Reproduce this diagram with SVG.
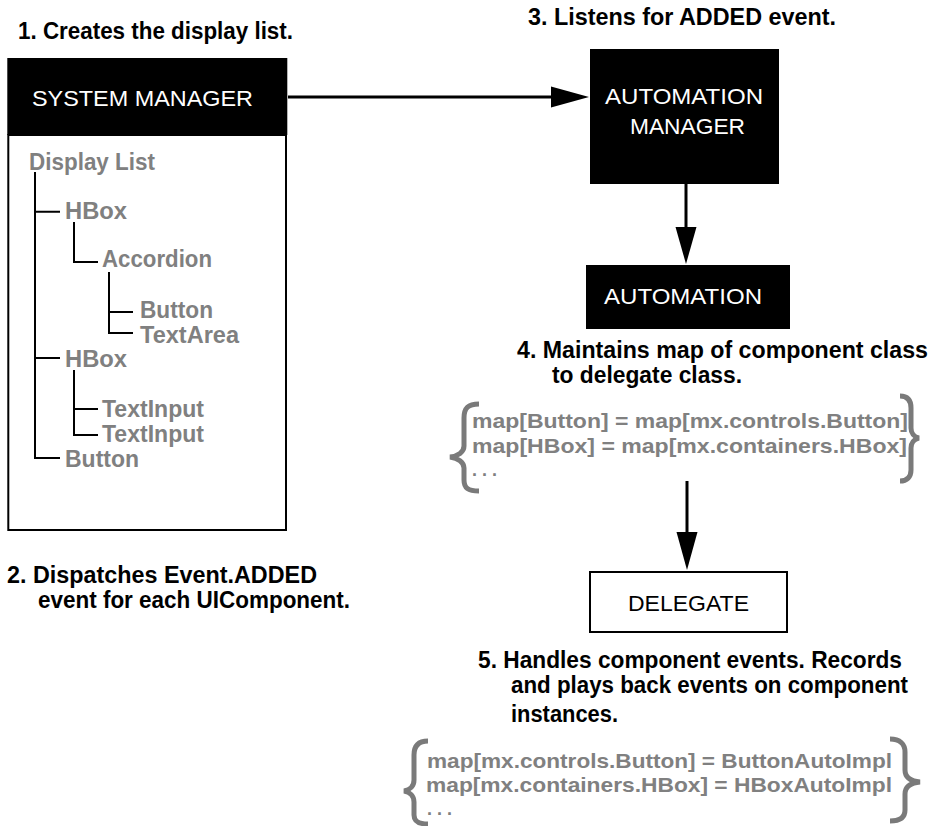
<svg xmlns="http://www.w3.org/2000/svg" width="931" height="826" viewBox="0 0 931 826">
<style>
text{font-family:"Liberation Sans",Arial,Helvetica,sans-serif;}
.lbl{font-size:23px;font-weight:bold;fill:#000;}
.gr{font-size:23px;font-weight:bold;fill:#808080;}
.mp{font-size:21px;font-weight:bold;fill:#808080;}
.dots{font-size:18px;font-weight:bold;fill:#808080;}
.wt{font-size:22px;fill:#fff;}
.bk{font-size:22px;fill:#000;}
.tree{stroke:#000;stroke-width:2;fill:none;}
.brace{stroke:#7a7a7a;stroke-width:5;fill:none;stroke-linecap:butt;}
.conn{stroke:#000;stroke-width:3;fill:none;}
.head{fill:#000;}
</style>
<rect width="931" height="826" fill="#fff"/>

<g id="label1"><text class="lbl" x="18" y="39" textLength="275" lengthAdjust="spacingAndGlyphs">1. Creates the display list.</text></g>

<g id="system-manager">
<rect x="8.3" y="135" width="277.7" height="395" fill="#fff" stroke="#000" stroke-width="2"/>
<rect x="7.3" y="58" width="280" height="77" fill="#000"/>
<text class="wt" x="32" y="106" textLength="221" lengthAdjust="spacingAndGlyphs">SYSTEM MANAGER</text>
</g>

<g id="display-list">
<text class="gr" x="29" y="170" textLength="126" lengthAdjust="spacingAndGlyphs">Display List</text>
<path class="tree" d="M35,172 V458 H60 M35,211.7 H60 M35,358 H60"/>
<path class="tree" d="M74,222 V262 H98"/>
<path class="tree" d="M109,272 V333 H133 M109,312 H133"/>
<path class="tree" d="M74,370 V435 H98 M74,409 H98"/>
<text class="gr" x="65" y="219" textLength="62" lengthAdjust="spacingAndGlyphs">HBox</text>
<text class="gr" x="102" y="267" textLength="110" lengthAdjust="spacingAndGlyphs">Accordion</text>
<text class="gr" x="140" y="318" textLength="73" lengthAdjust="spacingAndGlyphs">Button</text>
<text class="gr" x="140" y="343" textLength="99" lengthAdjust="spacingAndGlyphs">TextArea</text>
<text class="gr" x="65" y="367" textLength="62" lengthAdjust="spacingAndGlyphs">HBox</text>
<text class="gr" x="102" y="417" textLength="102" lengthAdjust="spacingAndGlyphs">TextInput</text>
<text class="gr" x="102" y="442" textLength="102" lengthAdjust="spacingAndGlyphs">TextInput</text>
<text class="gr" x="65" y="467" textLength="74" lengthAdjust="spacingAndGlyphs">Button</text>
</g>

<g id="label2">
<text class="lbl" x="7" y="583" textLength="310" lengthAdjust="spacingAndGlyphs">2. Dispatches Event.ADDED</text>
<text class="lbl" x="38" y="608" textLength="312" lengthAdjust="spacingAndGlyphs">event for each UIComponent.</text>
</g>

<g id="label3"><text class="lbl" x="528" y="25" textLength="308" lengthAdjust="spacingAndGlyphs">3. Listens for ADDED event.</text></g>

<g id="automation-manager">
<rect x="590" y="49" width="189" height="135" fill="#000"/>
<text class="wt" x="605" y="104" textLength="158" lengthAdjust="spacingAndGlyphs">AUTOMATION</text>
<text class="wt" x="630" y="134" textLength="115" lengthAdjust="spacingAndGlyphs">MANAGER</text>
</g>

<g id="automation">
<rect x="586" y="265" width="204" height="64" fill="#000"/>
<text class="wt" x="604" y="304" textLength="158" lengthAdjust="spacingAndGlyphs">AUTOMATION</text>
</g>

<g id="label4">
<text class="lbl" x="517" y="358" textLength="411" lengthAdjust="spacingAndGlyphs">4. Maintains map of component class</text>
<text class="lbl" x="552" y="383" textLength="190" lengthAdjust="spacingAndGlyphs">to delegate class.</text>
</g>

<g id="map1">
<path class="brace" d="M479,404 C468,404 464,408 464,418 L464,446 C464,452 458,456 450,457 C458,458 464,462 464,468 L464,480 C464,488 468,491 479,491"/>
<path class="brace" d="M900,396 C907,396 911,400 911,408 L911,428 C911,433 914,437 919,438 C914,439 911,443 911,448 L911,470 C911,477 907,481 900,481"/>
<text class="mp" x="472" y="428" textLength="436" lengthAdjust="spacingAndGlyphs">map[Button] = map[mx.controls.Button]</text>
<text class="mp" x="472" y="453" textLength="435" lengthAdjust="spacingAndGlyphs">map[HBox] = map[mx.containers.HBox]</text>
<text class="dots" x="472" y="476">. . .</text>
</g>

<g id="delegate">
<rect x="590" y="572" width="197" height="60" fill="#fff" stroke="#000" stroke-width="2"/>
<text class="bk" x="628" y="611" textLength="121" lengthAdjust="spacingAndGlyphs">DELEGATE</text>
</g>

<g id="label5">
<text class="lbl" x="478" y="668" textLength="424" lengthAdjust="spacingAndGlyphs">5. Handles component events. Records</text>
<text class="lbl" x="511" y="693" textLength="397" lengthAdjust="spacingAndGlyphs">and plays back events on component</text>
<text class="lbl" x="511" y="722" textLength="107" lengthAdjust="spacingAndGlyphs">instances.</text>
</g>

<g id="map2">
<path class="brace" d="M428,741 C418,741 414,746 414,755 L414,780 C414,786 410,790 404,791 C410,792 414,796 414,802 L414,815 C414,821 418,824 428,824"/>
<path class="brace" d="M890,739 C900,739 905,744 905,752 L905,770 C905,777 910,781 920,782 C910,783 905,787 905,794 L905,810 C905,817 900,821 890,821"/>
<text class="mp" x="427" y="768" textLength="465" lengthAdjust="spacingAndGlyphs">map[mx.controls.Button] = ButtonAutoImpl</text>
<text class="mp" x="426" y="792" textLength="466" lengthAdjust="spacingAndGlyphs">map[mx.containers.HBox] = HBoxAutoImpl</text>
<text class="dots" x="427" y="815">. . .</text>
</g>

<g id="connectors">
<line class="conn" x1="288" y1="97" x2="553" y2="97"/>
<polygon class="head" points="551,86.5 589,97 551,107.5"/>
<line class="conn" x1="686" y1="184" x2="686" y2="229"/>
<polygon class="head" points="675.5,227 696.5,227 686,264"/>
<line class="conn" x1="687" y1="481" x2="687" y2="534"/>
<polygon class="head" points="676.5,532 697.5,532 687,570"/>
</g>
</svg>
